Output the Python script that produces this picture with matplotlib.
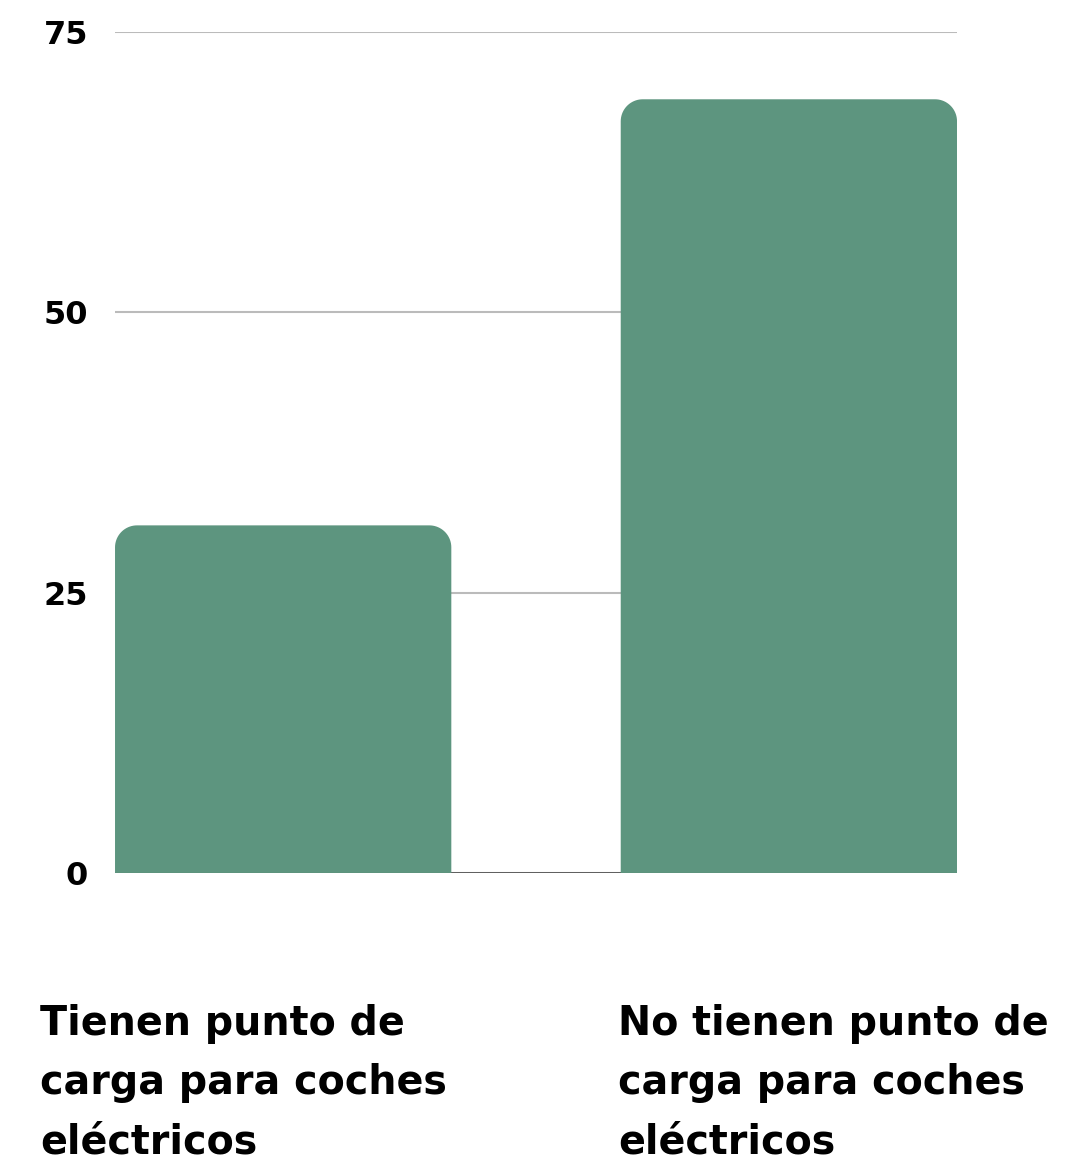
import matplotlib.pyplot as plt
import numpy as np
from matplotlib.path import Path
from matplotlib.patches import PathPatch

categorias = ["Tienen punto de\ncarga para coches\neléctricos",
              "No tienen punto de\ncarga para coches\neléctricos"]
valores = [31, 69]
yticks = [0, 25, 50, 75]

color_barra = "#5d957f"

fig = plt.figure(figsize=(10.77, 11.68), dpi=100)
ax = fig.add_axes([0.1068, 0.2526, 0.7818, 0.7200])

x = np.arange(len(valores))
ancho = 0.665
barras = ax.bar(x, valores, width=ancho, color=color_barra, zorder=2)
ax.set_xlim(-ancho / 2, len(valores) - 1 + ancho / 2)
ax.set_ylim(0, 75)

# redondear las esquinas de arriba
fig.canvas.draw()
sx = ax.transData.transform([[1, 0]])[0][0] - ax.transData.transform([[0, 0]])[0][0]
sy = ax.transData.transform([[0, 1]])[0][1] - ax.transData.transform([[0, 0]])[0][1]
r_px = 22
rx, ry = r_px / sx, r_px / sy
t = np.linspace(0, np.pi / 2, 20)
for b in barras:
    x0, y0 = b.get_x(), b.get_y()
    w, h = b.get_width(), b.get_height()
    b.set_visible(False)
    pts = [(x0, y0)]
    # esquina izquierda
    for a in t:
        pts.append((x0 + rx - rx * np.cos(a), y0 + h - ry + ry * np.sin(a)))
    # esquina derecha
    for a in t:
        pts.append((x0 + w - rx + rx * np.sin(a), y0 + h - ry + ry * np.cos(a)))
    pts.append((x0 + w, y0))
    pts.append((x0, y0))
    codes = [Path.MOVETO] + [Path.LINETO] * (len(pts) - 2) + [Path.CLOSEPOLY]
    ax.add_patch(PathPatch(Path(pts, codes), facecolor=color_barra,
                           edgecolor="none", zorder=2))

ax.set_yticks(yticks)
ax.set_yticklabels([str(v) for v in yticks], fontsize=23, fontweight="bold",
                   family="DejaVu Sans")
ax.tick_params(axis="y", length=0, pad=19.5)
ax.tick_params(axis="x", length=0, labelbottom=False)
for s in ax.spines.values():
    s.set_visible(False)
ax.yaxis.grid(True, color="#bbbbbb", linewidth=1.5)
ax.set_axisbelow(True)
ax.axhline(0, color="#555555", linewidth=2, zorder=1.8)

# etiquetas de categorías
pos_x = [40 / 1077, 618 / 1077]
for px, txt in zip(pos_x, categorias):
    fig.text(px, 1 - 1004 / 1168, txt, ha="left", va="top", fontsize=28.5,
             fontweight="bold", family="DejaVu Sans", linespacing=1.62)

fig.savefig("out.png", dpi=100)
